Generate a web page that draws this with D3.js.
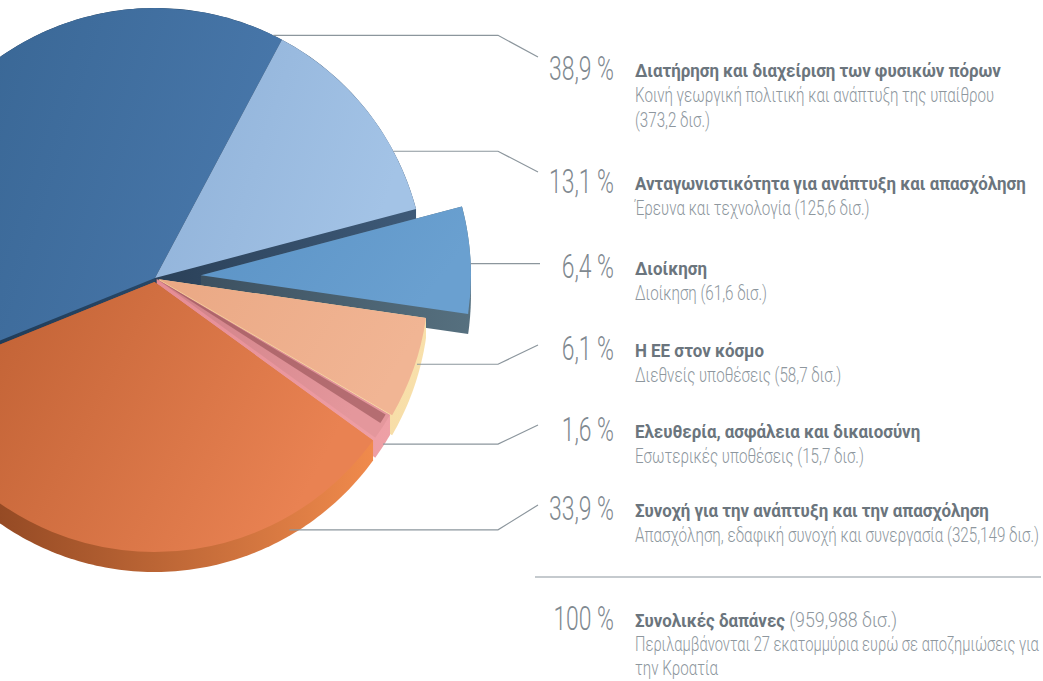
<!DOCTYPE html>
<html>
<head>
<meta charset="utf-8">
<script src="https://cdn.jsdelivr.net/npm/d3@7"></script>
<style>
  body { margin: 0; background: #fff; }
  svg { display: block; }
  text { font-family: "Roboto", "Open Sans", "DejaVu Sans", sans-serif; }
</style>
</head>
<body>
<div id="chart"></div>
<script>
// slice shares (%), clockwise starting at the dark blue slice
const shares = [38.9, 13.1, 6.4, 6.1, 1.6, 33.9];
const pctLabels = ["38,9 %", "13,1 %", "6,4 %", "6,1 %", "1,6 %", "33,9 %"];
const titles = [
    "Διατήρηση και διαχείριση των φυσικών πόρων",
    "Ανταγωνιστικότητα για ανάπτυξη και απασχόληση",
    "Διοίκηση",
    "Η ΕΕ στον κόσμο",
    "Ελευθερία, ασφάλεια και δικαιοσύνη",
    "Συνοχή για την ανάπτυξη και την απασχόληση"
];
const subtitles = [
    ["Κοινή γεωργική πολιτική και ανάπτυξη της υπαίθρου", "(373,2 δισ.)"],
    ["Έρευνα και τεχνολογία (125,6 δισ.)"],
    ["Διοίκηση (61,6 δισ.)"],
    ["Διεθνείς υποθέσεις (58,7 δισ.)"],
    ["Εσωτερικές υποθέσεις (15,7 δισ.)"],
    ["Απασχόληση, εδαφική συνοχή και συνεργασία (325,149 δισ.)"]
];
const totalPct = "100 %";
const totalTitle = "Συνολικές δαπάνες";
const totalAmount = " (959,988 δισ.)";
const totalNote = ["Περιλαμβάνονται 27 εκατομμύρια ευρώ σε αποζημιώσεις για", "την Κροατία"];

const width = 1043, height = 681;
const cx = 155, cy = 278, R = 270, depth = 20;
const rad = Math.PI / 180;

// look of each slice
const topColors = [["#35628f", "#4877aa"], ["#8fb1d8", "#a3c3e6"], ["#5b93c6", "#6aa0d0"],
                   ["#eaa884", "#f1b594"], ["#cf7f86", "#e4979c"], ["#b85b2f", "#e98252"]];
const sideColors = [["#1d3650", "#2c4e70"], ["#2a4058", "#3e5a78"], ["#3c5060", "#56707f"],
                    ["#f2cf96", "#f8e0ab"], ["#e58c95", "#eea0a6"], ["#7e3a1a", "#f08a4c"]];
const explode = [0, 0, 46, 4, 2, 4];
const leaderAngle = [26, 62, 87.5, 107, 123, 150];
const leaderDrop = [0, 0, 0, 6, 18, 14];
const rowBaselines = [80, 193, 278, 360, 441, 520];
const leaderEndY = [57, 172, null, 345, 425, 505];

const svg = d3.select("#chart").append("svg")
    .attr("width", width)
    .attr("height", height);

const defs = svg.append("defs");

const pie = d3.pie().sort(null)
    .startAngle(-112 * rad)
    .endAngle(248 * rad);
const arcs = pie(shares);

const arc = d3.arc().innerRadius(0).outerRadius(R);

arcs.forEach((a, i) => {
    const mid = (a.startAngle + a.endAngle) / 2;
    a.dx = Math.sin(mid) * explode[i];
    a.dy = -Math.cos(mid) * explode[i];

    const gt = defs.append("linearGradient").attr("id", "top" + i)
        .attr("x1", 0).attr("y1", 0).attr("x2", 1).attr("y2", 0.3);
    gt.append("stop").attr("offset", "0%").attr("stop-color", topColors[i][0]);
    gt.append("stop").attr("offset", "100%").attr("stop-color", topColors[i][1]);

    const gs = defs.append("linearGradient").attr("id", "side" + i)
        .attr("x1", 0).attr("y1", 0).attr("x2", 1).attr("y2", 0);
    gs.append("stop").attr("offset", "0%").attr("stop-color", sideColors[i][0]);
    gs.append("stop").attr("offset", "100%").attr("stop-color", sideColors[i][1]);
});

// outline points of a wedge, used for the extruded side
function wedgePoints(a, offY) {
    const pts = [[cx + a.dx, cy + a.dy + offY]];
    const n = Math.max(2, Math.ceil((a.endAngle - a.startAngle) / rad));
    for (let k = 0; k <= n; k++) {
        const t = a.startAngle + (a.endAngle - a.startAngle) * k / n;
        pts.push([cx + a.dx + R * Math.sin(t), cy + a.dy + offY - R * Math.cos(t)]);
    }
    return pts;
}

const pieG = svg.append("g");

arcs.forEach((a, i) => {
    const hull = d3.polygonHull(wedgePoints(a, 0).concat(wedgePoints(a, depth)));
    pieG.append("path")
        .attr("d", "M" + hull.join("L") + "Z")
        .attr("fill", `url(#side${i})`);

    pieG.append("path")
        .attr("transform", `translate(${cx + a.dx},${cy + a.dy})`)
        .attr("d", arc(a))
        .attr("fill", `url(#top${i})`);
});

// shading in the groove of the thin slice
const groove = d3.arc().innerRadius(0).outerRadius(R - 4);
pieG.append("path")
    .attr("transform", `translate(${cx + arcs[4].dx},${cy + arcs[4].dy})`)
    .attr("d", groove({startAngle: arcs[4].startAngle + 0.4 * rad, endAngle: arcs[4].endAngle - 3.2 * rad}))
    .attr("fill", "#8e4a4e")
    .attr("opacity", 0.55);

// leader lines
const lineColor = "#8c969d";
const lines = svg.append("g")
    .attr("fill", "none")
    .attr("stroke", lineColor)
    .attr("stroke-width", 1.2);

arcs.forEach((a, i) => {
    const t = leaderAngle[i] * rad;
    const x0 = cx + a.dx + R * Math.sin(t);
    const y0 = cy + a.dy - R * Math.cos(t) + leaderDrop[i];
    const pts = leaderEndY[i] === null
        ? [[x0, y0], [540, y0]]
        : [[x0, y0], [498, y0], [538, leaderEndY[i]]];
    lines.append("path").attr("d", d3.line()(pts));
});

// text styles; the reference uses a condensed face, so each style is
// squeezed horizontally to the width one of its strings has there
const styles = {
    pct:   {size: 33, weight: 300, fill: "#7f8990", sample: "38,9 %", target: 65},
    title: {size: 18.5, weight: 700, fill: "#6b757d", sample: titles[1], target: 391},
    sub:   {size: 19.5, weight: 300, fill: "#8e979e", sample: subtitles[5][0], target: 404}
};
Object.values(styles).forEach(st => {
    const probe = svg.append("text")
        .attr("font-size", st.size)
        .attr("font-weight", st.weight)
        .text(st.sample);
    st.k = st.target / probe.node().getComputedTextLength();
    probe.remove();
});

const labels = svg.append("g");
const maxRight = 1039;
function label(st, x, y, str, anchor) {
    const t = labels.append("text")
        .attr("text-anchor", anchor || "start")
        .attr("font-size", st.size)
        .attr("font-weight", st.weight)
        .attr("fill", st.fill)
        .text(str);
    let k = st.k;
    if (!anchor && str) {
        const w = t.node().getComputedTextLength();
        if (x + w * k > maxRight) k = (maxRight - x) / w;
    }
    return t.attr("transform", `translate(${x},${y}) scale(${k},1)`);
}

const pctX = 614, textX = 635;

titles.forEach((title, i) => {
    const b = rowBaselines[i];
    label(styles.pct, pctX, b, pctLabels[i], "end");
    label(styles.title, textX, b - 3, title);
    subtitles[i].forEach((s, k) => label(styles.sub, textX, b - 3 + 25 * (k + 1), s));
});

svg.append("line")
    .attr("x1", 535).attr("x2", 1041)
    .attr("y1", 577).attr("y2", 577)
    .attr("stroke", lineColor)
    .attr("stroke-width", 1.2);

const tb = 630;
label(styles.pct, pctX, tb, totalPct, "end");
const tt = label(styles.title, textX, tb - 3, "");
tt.append("tspan").text(totalTitle);
tt.append("tspan")
    .attr("font-weight", styles.sub.weight)
    .attr("font-size", styles.sub.size)
    .attr("fill", styles.sub.fill)
    .text(totalAmount);
totalNote.forEach((s, k) => label(styles.sub, textX, tb - 3 + 24 * (k + 1), s));
</script>
</body>
</html>
